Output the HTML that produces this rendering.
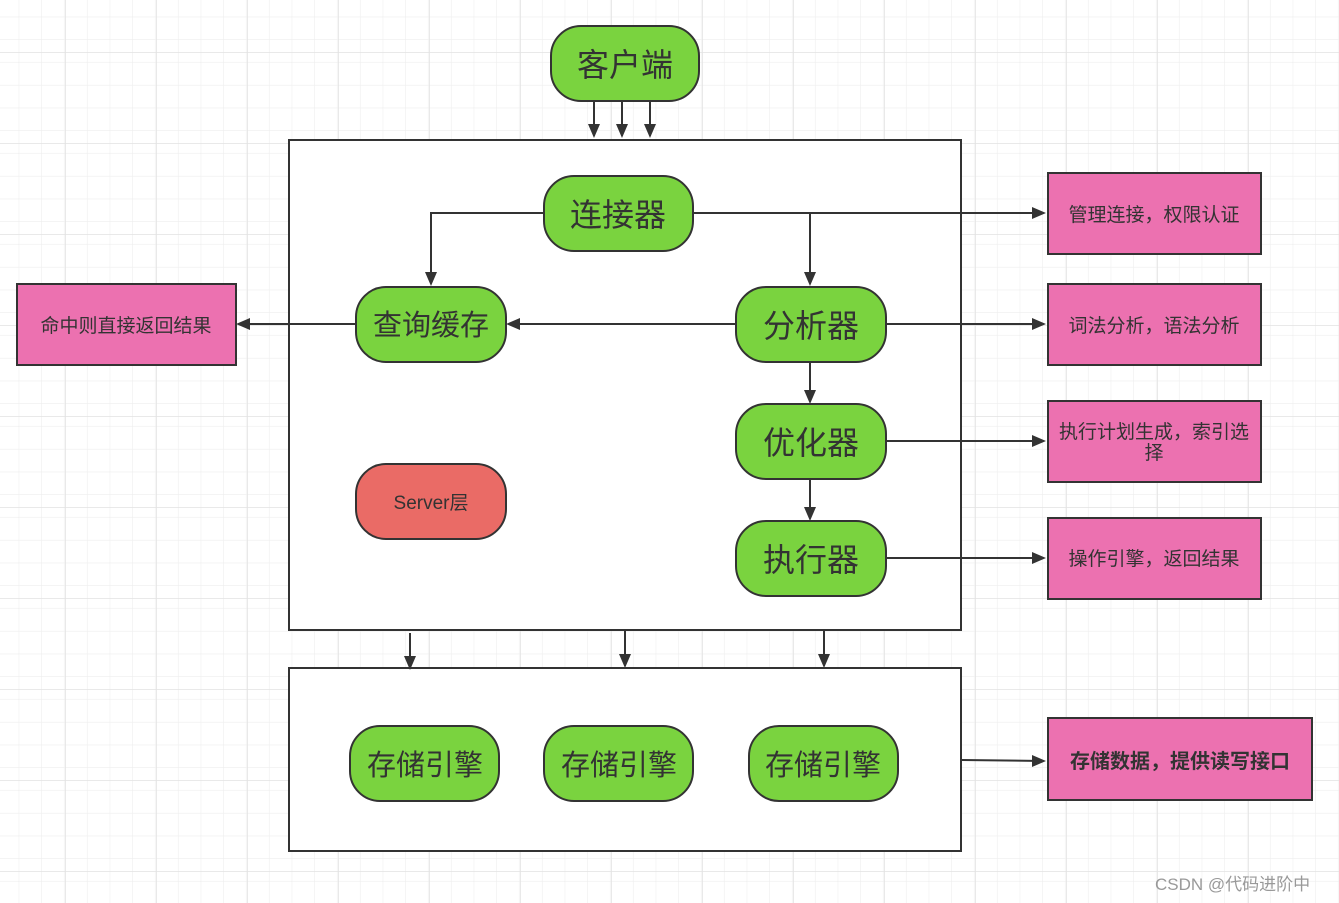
<!DOCTYPE html>
<html><head><meta charset="utf-8"><style>
html,body{margin:0;padding:0;background:#fff}
svg{display:block}
text{font-family:"Liberation Sans","Noto Sans CJK SC",sans-serif;fill:#333}
</style></head><body>
<svg width="1339" height="903" viewBox="0 0 1339 903" xmlns="http://www.w3.org/2000/svg">
<defs>
<pattern id="minor" width="22.75" height="22.75" patternUnits="userSpaceOnUse" x="-1.25" y="-13">
<path d="M22.75 0V22.75M0 22.75H22.75" stroke="#eeeeee" stroke-width="1.2" fill="none"/>
</pattern>
<pattern id="major" width="91" height="91" patternUnits="userSpaceOnUse" x="-25" y="-38">
<rect width="91" height="91" fill="url(#minor)"/>
<path d="M91 0V91M0 91H91" stroke="#e2e2e2" stroke-width="1.5" fill="none"/>
</pattern>
<marker id="a" viewBox="0 0 10 10" refX="9" refY="5" markerWidth="6" markerHeight="6" markerUnits="userSpaceOnUse" orient="auto">
<path d="M0 0L10 5L0 10z" fill="#333"/>
</marker>
</defs>
<rect width="1339" height="903" fill="url(#major)"/>
<g stroke="#333" stroke-width="2" fill="#fff">
<rect x="289" y="140" width="672" height="490"/>
<rect x="289" y="668" width="672" height="183"/>
</g>
<g stroke="#333" stroke-width="2" fill="none">
<path d="M594 102V136M622 102V136M650 102V136"/>
<path d="M544 213H431V283"/>
<path d="M693 213H810V283"/>
<path d="M693 213H1043"/>
<path d="M736 324H510"/>
<path d="M356 324H240"/>
<path d="M886 324H1043"/>
<path d="M810 362V400"/>
<path d="M810 479V517"/>
<path d="M886 441H1043"/>
<path d="M886 558H1043"/>
<path d="M410 633V666M625 631V666M824 631V666"/>
<path d="M962 760L1043 761"/>
</g>
<g fill="#333">
<path d="M588 124L594 138L600 124z M616 124L622 138L628 124z M644 124L650 138L656 124z"/>
<path d="M425 272L431 286L437 272z M804 272L810 286L816 272z"/>
<path d="M1032 207L1046 213L1032 219z M1032 318L1046 324L1032 330z M1032 435L1046 441L1032 447z M1032 552L1046 558L1032 564z M1032 755L1046 761L1032 767z"/>
<path d="M520 318L506 324L520 330z M250 318L236 324L250 330z"/>
<path d="M804 390L810 404L816 390z M804 507L810 521L816 507z"/>
<path d="M404 656L410 670L416 656z M619 654L625 668L631 654z M818 654L824 668L830 654z"/>
</g>
<g stroke="#333" stroke-width="2" fill="#7AD33F">
<rect x="551" y="26" width="148" height="75" rx="30"/>
<rect x="544" y="176" width="149" height="75" rx="30"/>
<rect x="356" y="287" width="150" height="75" rx="30"/>
<rect x="736" y="287" width="150" height="75" rx="30"/>
<rect x="736" y="404" width="150" height="75" rx="30"/>
<rect x="736" y="521" width="150" height="75" rx="30"/>
<rect x="350" y="726" width="149" height="75" rx="30"/>
<rect x="544" y="726" width="149" height="75" rx="30"/>
<rect x="749" y="726" width="149" height="75" rx="30"/>
<rect x="356" y="464" width="150" height="75" rx="30" fill="#EA6B66"/>
</g>
<g stroke="#333" stroke-width="2" fill="#EC71B0">
<rect x="1048" y="173" width="213" height="81"/>
<rect x="1048" y="284" width="213" height="81"/>
<rect x="1048" y="401" width="213" height="81"/>
<rect x="1048" y="518" width="213" height="81"/>
<rect x="17" y="284" width="219" height="81"/>
<rect x="1048" y="718" width="264" height="82"/>
</g>
<g text-anchor="middle" font-size="32">
<text x="625" y="76">客户端</text>
<text x="618" y="226">连接器</text>
<text x="811" y="337">分析器</text>
<text x="811" y="454">优化器</text>
<text x="811" y="571">执行器</text>
</g>
<g text-anchor="middle" font-size="29">
<text x="431" y="335">查询缓存</text>
<text x="425" y="775">存储引擎</text>
<text x="619" y="775">存储引擎</text>
<text x="823" y="775">存储引擎</text>
</g>
<text x="431" y="509" text-anchor="middle" font-size="19">Server层</text>
<g text-anchor="middle" font-size="19">
<text x="1154" y="221">管理连接，权限认证</text>
<text x="1154" y="332">词法分析，语法分析</text>
<text x="1154" y="438">执行计划生成，索引选</text>
<text x="1154" y="459">择</text>
<text x="1154" y="565">操作引擎，返回结果</text>
<text x="126" y="332">命中则直接返回结果</text>
<text x="1180" y="768" font-weight="bold" font-size="20">存储数据，提供读写接口</text>
</g>
<text x="1155" y="890" font-size="17" style="fill:#999">CSDN @代码进阶中</text>
</svg>
</body></html>
